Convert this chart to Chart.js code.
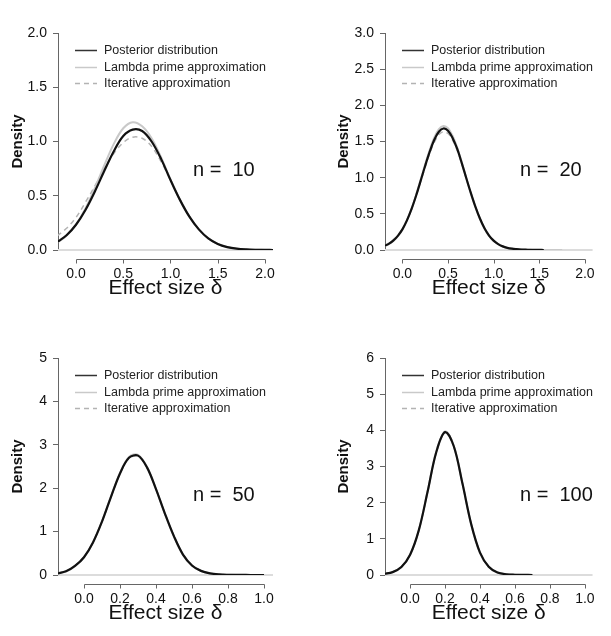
<!DOCTYPE html>
<html lang="en">
<head>
<meta charset="utf-8">
<title>Posterior distribution of effect size</title>
<script src="https://cdn.jsdelivr.net/npm/chart.js@4.4.1/dist/chart.umd.min.js"></script>
<style>
    html, body { margin: 0; padding: 0; background: #fff; }
    #wrap { position: relative; width: 611px; height: 636px; }
    canvas { position: absolute; }
</style>
</head>
<body>
<div id="wrap">
    <canvas id="c10" width="305" height="318" style="left:0;top:0"></canvas>
    <canvas id="c20" width="306" height="318" style="left:305px;top:0"></canvas>
    <canvas id="c50" width="305" height="318" style="left:0;top:318px"></canvas>
    <canvas id="c100" width="306" height="318" style="left:305px;top:318px"></canvas>
</div>
<script>
// ======================================================
//              DONNÉES
// ======================================================

const seriesNames = ["Posterior distribution", "Lambda prime approximation", "Iterative approximation"];
const sampleLabels = ["n =  10", "n =  20", "n =  50", "n =  100"];

const xTicksWide = [0, 0.5, 1, 1.5, 2];
const xTicksNarrow = [0, 0.2, 0.4, 0.6, 0.8, 1];
const yTicks10 = [0, 0.5, 1, 1.5, 2];
const yTicks20 = [0, 0.5, 1, 1.5, 2, 2.5, 3];
const yTicks50 = [0, 1, 2, 3, 4, 5];
const yTicks100 = [0, 1, 2, 3, 4, 5, 6];

// n = 10
const x10 = [-0.2, -0.1, 0, 0.1, 0.2, 0.3, 0.4, 0.5, 0.6, 0.7, 0.8, 0.9, 1.0, 1.1, 1.2, 1.3, 1.4, 1.5, 1.6, 1.7, 1.8, 1.9, 2.0, 2.1];
const post10 = [0.073, 0.136, 0.233, 0.369, 0.54, 0.73, 0.911, 1.051, 1.11, 1.097, 1.0, 0.84, 0.645, 0.462, 0.307, 0.19, 0.107, 0.056, 0.027, 0.012, 0.005, 0.002, 0.001, 0];
const lambda10 = [0.068, 0.132, 0.235, 0.383, 0.571, 0.781, 0.978, 1.122, 1.178, 1.14, 1.03, 0.855, 0.65, 0.462, 0.307, 0.19, 0.107, 0.056, 0.027, 0.012, 0.005, 0.002, 0.001, 0];
const iter10 = [0.13, 0.2, 0.3, 0.44, 0.59, 0.75, 0.89, 0.99, 1.04, 1.03, 0.955, 0.815, 0.645, 0.465, 0.31, 0.19, 0.107, 0.056, 0.027, 0.012, 0.005, 0.002, 0.001, 0];

// n = 20
const x20 = [-0.2, -0.15, -0.1, -0.05, 0, 0.05, 0.1, 0.15, 0.2, 0.25, 0.3, 0.35, 0.4, 0.45, 0.5, 0.55, 0.6, 0.65, 0.7, 0.75,
             0.8, 0.85, 0.9, 0.95, 1.0, 1.05, 1.1, 1.15, 1.2, 1.25, 1.3, 1.35, 1.4, 1.45, 1.5, 1.55, 1.6, 1.65, 1.7, 1.75];
const post20 = [0.055, 0.085, 0.13, 0.195, 0.285, 0.41, 0.565, 0.75, 0.955, 1.165, 1.36, 1.525, 1.635, 1.68, 1.65, 1.55, 1.40, 1.205, 0.995, 0.79,
                0.60, 0.435, 0.30, 0.20, 0.13, 0.082, 0.05, 0.03, 0.018, 0.011, 0.006, 0.004, 0.002, 0.001, 0.001, 0];
const lambda20 = [0.05, 0.08, 0.125, 0.19, 0.28, 0.41, 0.57, 0.76, 0.97, 1.185, 1.385, 1.555, 1.67, 1.715, 1.685, 1.58, 1.42, 1.215, 0.995, 0.785,
                  0.595, 0.43, 0.295, 0.195, 0.125, 0.08, 0.048, 0.028, 0.017, 0.01, 0.006, 0.003, 0.002, 0.001, 0.001, 0, 0, 0, 0, 0];
const iter20 = [0.065, 0.095, 0.14, 0.205, 0.295, 0.415, 0.565, 0.745, 0.945, 1.145, 1.335, 1.49, 1.595, 1.635, 1.61, 1.52, 1.38, 1.195, 0.99, 0.79,
                0.605, 0.44, 0.305, 0.205, 0.135, 0.085, 0.052, 0.031, 0.018, 0.011, 0.006, 0.004, 0.002, 0.001, 0.001, 0, 0, 0, 0, 0];

// n = 50
const x50 = [-0.15, -0.1, -0.05, 0, 0.05, 0.1, 0.15, 0.2, 0.25, 0.3, 0.35, 0.4, 0.45, 0.5, 0.55, 0.6, 0.65, 0.7, 0.75, 0.8, 0.85, 0.9, 0.95, 1.0];
const post50 = [0.035, 0.085, 0.21, 0.41, 0.75, 1.23, 1.80, 2.34, 2.70, 2.75, 2.48, 1.98, 1.41, 0.89, 0.47, 0.22, 0.095, 0.038, 0.014, 0.005, 0.002, 0.001, 0, 0];
const lambda50 = [0.032, 0.08, 0.205, 0.405, 0.75, 1.235, 1.81, 2.355, 2.72, 2.77, 2.49, 1.98, 1.405, 0.88, 0.46, 0.215, 0.092, 0.036, 0.013, 0.005, 0.002, 0.001, 0, 0];
const iter50 = [0.04, 0.09, 0.215, 0.415, 0.755, 1.23, 1.795, 2.33, 2.685, 2.735, 2.475, 1.98, 1.415, 0.895, 0.48, 0.225, 0.098, 0.04, 0.015, 0.006, 0.002, 0.001, 0, 0];

// n = 100
const x100 = [-0.15, -0.1, -0.05, 0, 0.05, 0.1, 0.15, 0.2, 0.25, 0.3, 0.35, 0.4, 0.45, 0.5, 0.55, 0.6, 0.65, 0.7];
const post100 = [0.03, 0.08, 0.22, 0.56, 1.24, 2.30, 3.40, 3.95, 3.56, 2.52, 1.40, 0.62, 0.23, 0.07, 0.02, 0.006, 0.002, 0];
const lambda100 = [0.028, 0.078, 0.215, 0.555, 1.24, 2.31, 3.42, 3.97, 3.57, 2.52, 1.39, 0.61, 0.225, 0.068, 0.019, 0.005, 0.001, 0];
const iter100 = [0.032, 0.082, 0.225, 0.565, 1.24, 2.29, 3.38, 3.93, 3.55, 2.52, 1.41, 0.63, 0.235, 0.072, 0.021, 0.006, 0.002, 0];

// ======================================================
//          STYLE GÉNÉRAL
// ======================================================

const FONT = '"Liberation Sans", Arial, Helvetica, sans-serif';
const AXIS_GREY = "#666";

// ======================================================
//   PLUGIN : ligne de base, axe x détaché, légende, n
// ======================================================

const deco = {
    id: "deco",
    beforeDatasetsDraw(chart) {
        const { ctx, chartArea: a, scales: { y } } = chart;
        const py = y.getPixelForValue(0);
        ctx.save();
        ctx.strokeStyle = "#dcdcdc";
        ctx.lineWidth = 2;
        ctx.beginPath();
        ctx.moveTo(a.left, py);
        ctx.lineTo(a.right, py);
        ctx.stroke();
        ctx.restore();
    },
    afterDraw(chart, args, opts) {
        const { ctx, chartArea: a, scales: { x } } = chart;
        ctx.save();

        // axe x à la manière de R (limité aux graduations)
        const ay = a.bottom + 9.5;
        const ticks = x.ticks.map(t => Math.round(x.getPixelForValue(t.value)) + 0.5);
        ctx.strokeStyle = AXIS_GREY;
        ctx.lineWidth = 1;
        ctx.beginPath();
        ctx.moveTo(ticks[0], ay);
        ctx.lineTo(ticks[ticks.length - 1], ay);
        ticks.forEach(px => {
            ctx.moveTo(px, ay);
            ctx.lineTo(px, ay + 4);
        });
        ctx.stroke();

        // légende
        ctx.font = `12.5px ${FONT}`;
        ctx.textBaseline = "middle";
        chart.data.datasets.forEach((ds, i) => {
            const ly = Math.round(a.top + 17 + i * 16.5) + 0.5;
            ctx.strokeStyle = i === 0 ? "#333" : ds.borderColor;
            ctx.lineWidth = 1.5;
            ctx.setLineDash(ds.borderDash || []);
            ctx.beginPath();
            ctx.moveTo(a.left + 17, ly);
            ctx.lineTo(a.left + 39, ly);
            ctx.stroke();
            ctx.setLineDash([]);
            ctx.fillStyle = "#222";
            ctx.fillText(ds.label, a.left + 46, ly);
        });

        // taille d'échantillon
        ctx.font = `20px ${FONT}`;
        ctx.fillStyle = "#111";
        ctx.fillText(opts.label, a.left + 135, a.top + 137);

        ctx.restore();
    }
};

// ======================================================
//              CONSTRUCTION D'UN PANNEAU
// ======================================================

function makePanel(id, p) {
    const pts = ys => ys.map((y, i) => ({ x: p.x[i], y }));

    return new Chart(document.getElementById(id), {
        type: "line",
        data: {
            datasets: [
                { label: seriesNames[0], data: pts(p.post), borderColor: "#111", borderWidth: 2.2 },
                { label: seriesNames[1], data: pts(p.lambda), borderColor: "#c9c9c9", borderWidth: 2 },
                { label: seriesNames[2], data: pts(p.iter), borderColor: "#b3b3b3", borderWidth: 1.5, borderDash: [5, 4] }
            ]
        },
        options: {
            responsive: false,
            animation: false,
            devicePixelRatio: 1,
            elements: { point: { radius: 0 }, line: { tension: 0.35 } },
            layout: { padding: { left: 0, top: p.top, right: p.right, bottom: 0 } },
            plugins: {
                legend: { display: false },
                tooltip: { enabled: false },
                deco: { label: p.label }
            },
            scales: {
                x: {
                    type: "linear",
                    min: p.xMin,
                    max: p.xMax,
                    afterBuildTicks: s => { s.ticks = p.xTicks.map(v => ({ value: v })); },
                    afterFit: s => { s.height = p.xHeight; },
                    grid: { display: false, drawTicks: false },
                    border: { display: false },
                    ticks: {
                        padding: 16,
                        autoSkip: false,
                        maxRotation: 0,
                        color: "#111",
                        font: { family: FONT, size: 14 },
                        callback: v => v.toFixed(1)
                    },
                    title: {
                        display: true,
                        text: "Effect size δ",
                        color: "#111",
                        font: { family: FONT, size: 21 },
                        padding: { top: 0, bottom: p.xTitlePad }
                    }
                },
                y: {
                    type: "linear",
                    min: 0,
                    max: p.yTicks[p.yTicks.length - 1],
                    afterBuildTicks: s => { s.ticks = p.yTicks.map(v => ({ value: v })); },
                    afterFit: s => { s.width = p.yWidth; },
                    grid: { drawOnChartArea: false, drawTicks: true, tickLength: 5, color: AXIS_GREY },
                    border: { color: AXIS_GREY },
                    ticks: {
                        padding: 6,
                        color: "#111",
                        font: { family: FONT, size: 14 },
                        callback: v => v.toFixed(p.yDec)
                    },
                    title: {
                        display: true,
                        text: "Density",
                        color: "#111",
                        font: { family: FONT, size: 15, weight: "bold" },
                        padding: { top: p.yTitlePad, bottom: 0 }
                    }
                }
            }
        },
        plugins: [deco]
    });
}

// ======================================================
//              LANCEMENT
// ======================================================

makePanel("c10", {
    x: x10, post: post10, lambda: lambda10, iter: iter10,
    xMin: -0.1905, xMax: 2.0847, xTicks: xTicksWide, yTicks: yTicks10, yDec: 1,
    label: sampleLabels[0], top: 33, right: 32, yWidth: 58, xHeight: 68, yTitlePad: 8.5, xTitlePad: 17
});

makePanel("c20", {
    x: x20, post: post20, lambda: lambda20, iter: iter20,
    xMin: -0.1905, xMax: 2.0847, xTicks: xTicksWide, yTicks: yTicks20, yDec: 1,
    label: sampleLabels[1], top: 33, right: 11, yWidth: 80, xHeight: 68, yTitlePad: 30, xTitlePad: 17
});

makePanel("c50", {
    x: x50, post: post50, lambda: lambda50, iter: iter50,
    xMin: -0.1444, xMax: 1.05, xTicks: xTicksNarrow, yTicks: yTicks50, yDec: 0,
    label: sampleLabels[2], top: 40, right: 32, yWidth: 58, xHeight: 61, yTitlePad: 8.5, xTitlePad: 10
});

makePanel("c100", {
    x: x100, post: post100, lambda: lambda100, iter: iter100,
    xMin: -0.1436, xMax: 1.044, xTicks: xTicksNarrow, yTicks: yTicks100, yDec: 0,
    label: sampleLabels[3], top: 40, right: 11, yWidth: 80, xHeight: 61, yTitlePad: 30, xTitlePad: 10
});
</script>
</body>
</html>
